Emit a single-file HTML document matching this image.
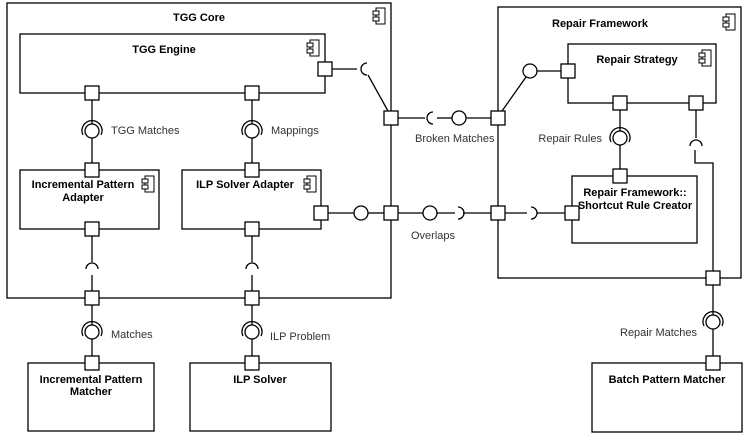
<!DOCTYPE html>
<html><head><meta charset="utf-8"><style>
html,body{margin:0;padding:0;background:#fff;}
svg{display:block;font-family:"Liberation Sans",Arial,sans-serif;}
.b{font-weight:bold;font-size:11px;fill:#000;}
.l{font-size:11px;fill:#333;}
</style></head><body>
<svg width="747" height="439" viewBox="0 0 747 439" xmlns="http://www.w3.org/2000/svg">
<defs>
<g id="ic"><rect x="0" y="0" width="9" height="16" fill="#fff" stroke="#000" stroke-width="1"/><rect x="-3" y="3" width="6" height="4" fill="#fff" stroke="#000" stroke-width="1"/><rect x="-3" y="9" width="6" height="4" fill="#fff" stroke="#000" stroke-width="1"/></g>
</defs>
<g fill="none" stroke="#000" stroke-width="1.3">
<rect x="7" y="3" width="384" height="295"/>
<rect x="498" y="7" width="243" height="271"/>
<rect x="20" y="34" width="305" height="59"/>
<rect x="20" y="170" width="139" height="59"/>
<rect x="182" y="170" width="139" height="59"/>
<rect x="568" y="44" width="148" height="59"/>
<rect x="572" y="176" width="125" height="67"/>
<rect x="28" y="363" width="126" height="68"/>
<rect x="190" y="363" width="141" height="68"/>
<rect x="592" y="363" width="150" height="69"/>
<line x1="92" y1="100" x2="92" y2="124"/><line x1="92" y1="138" x2="92" y2="163"/>
<line x1="252" y1="100" x2="252" y2="124"/><line x1="252" y1="138" x2="252" y2="163"/>
<line x1="92" y1="236" x2="92" y2="262"/><line x1="92" y1="275" x2="92" y2="291"/>
<line x1="252" y1="236" x2="252" y2="262"/><line x1="252" y1="275" x2="252" y2="291"/>
<line x1="92" y1="305" x2="92" y2="325"/><line x1="92" y1="339" x2="92" y2="356"/>
<line x1="252" y1="305" x2="252" y2="325"/><line x1="252" y1="339" x2="252" y2="356"/>
<line x1="332" y1="69" x2="357" y2="69"/><line x1="368" y1="75" x2="388" y2="111"/>
<line x1="398" y1="118" x2="425" y2="118"/><line x1="437" y1="118" x2="452" y2="118"/><line x1="466" y1="118" x2="491" y2="118"/>
<line x1="502" y1="111" x2="526" y2="77"/><line x1="537" y1="71" x2="561" y2="71"/>
<line x1="328" y1="213" x2="354" y2="213"/><line x1="368" y1="213" x2="384" y2="213"/>
<line x1="398" y1="213" x2="423" y2="213"/><line x1="437" y1="213" x2="455" y2="213"/><line x1="463" y1="213" x2="491" y2="213"/>
<line x1="505" y1="213" x2="527" y2="213"/><line x1="537" y1="213" x2="565" y2="213"/>
<line x1="620" y1="110" x2="620" y2="131"/><line x1="620" y1="145" x2="620" y2="169"/>
<line x1="696" y1="110" x2="696" y2="138"/>
<polyline points="695,150 695,163 713,163 713,271"/>
<line x1="713" y1="285" x2="713" y2="315"/><line x1="713" y1="329" x2="713" y2="356"/>
<circle cx="92" cy="131" r="7"/><path d="M83,135 A10,10 0 1 1 101,135"/>
<circle cx="252" cy="131" r="7"/><path d="M243,135 A10,10 0 1 1 261,135"/>
<circle cx="92" cy="332" r="7"/><path d="M83,336 A10,10 0 1 1 101,336"/>
<circle cx="252" cy="332" r="7"/><path d="M243,336 A10,10 0 1 1 261,336"/>
<circle cx="620" cy="138" r="7"/><path d="M611,142 A10,10 0 1 1 629,142"/>
<circle cx="713" cy="322" r="7"/><path d="M704,326 A10,10 0 1 1 722,326"/>
<circle cx="459" cy="118" r="7"/><circle cx="530" cy="71" r="7"/>
<circle cx="361" cy="213" r="7"/><circle cx="430" cy="213" r="7"/>
<path d="M86,269 A6,6 0 0 1 98,269"/><path d="M246,269 A6,6 0 0 1 258,269"/>
<path d="M690,146 A6,6 0 0 1 702,146"/>
<path d="M367,63 A6,6 0 0 0 367,75"/>
<path d="M433,112 A6,6 0 0 0 433,124"/>
<path d="M458,207 A6,6 0 0 1 458,219"/>
<path d="M531,207 A6,6 0 0 1 531,219"/>
</g>
<g fill="#fff" stroke="#000" stroke-width="1.3">
<rect x="85" y="86" width="14" height="14"/><rect x="245" y="86" width="14" height="14"/>
<rect x="318" y="62" width="14" height="14"/>
<rect x="85" y="163" width="14" height="14"/><rect x="245" y="163" width="14" height="14"/>
<rect x="85" y="222" width="14" height="14"/><rect x="245" y="222" width="14" height="14"/>
<rect x="314" y="206" width="14" height="14"/>
<rect x="384" y="111" width="14" height="14"/><rect x="384" y="206" width="14" height="14"/>
<rect x="85" y="291" width="14" height="14"/><rect x="245" y="291" width="14" height="14"/>
<rect x="85" y="356" width="14" height="14"/><rect x="245" y="356" width="14" height="14"/>
<rect x="491" y="111" width="14" height="14"/><rect x="491" y="206" width="14" height="14"/>
<rect x="561" y="64" width="14" height="14"/>
<rect x="613" y="96" width="14" height="14"/><rect x="689" y="96" width="14" height="14"/>
<rect x="613" y="169" width="14" height="14"/><rect x="565" y="206" width="14" height="14"/>
<rect x="706" y="271" width="14" height="14"/><rect x="706" y="356" width="14" height="14"/>
</g>
<use href="#ic" x="376" y="8"/><use href="#ic" x="310" y="40"/>
<use href="#ic" x="145" y="176"/><use href="#ic" x="307" y="176"/>
<use href="#ic" x="726" y="14"/><use href="#ic" x="702" y="50"/>
<g class="b" text-anchor="middle">
<text x="199" y="21">TGG Core</text>
<text x="164" y="53">TGG Engine</text>
<text x="83" y="188">Incremental Pattern</text><text x="83" y="201">Adapter</text>
<text x="245" y="188">ILP Solver Adapter</text>
<text x="600" y="27">Repair Framework</text>
<text x="637" y="63">Repair Strategy</text>
<text x="635" y="196">Repair Framework::</text><text x="635" y="209">Shortcut Rule Creator</text>
<text x="91" y="383">Incremental Pattern</text><text x="91" y="395">Matcher</text>
<text x="260" y="383">ILP Solver</text>
<text x="667" y="383">Batch Pattern Matcher</text>
</g>
<g class="l">
<text x="111" y="134">TGG Matches</text>
<text x="271" y="134">Mappings</text>
<text x="111" y="338">Matches</text>
<text x="270" y="340">ILP Problem</text>
<text x="415" y="142">Broken Matches</text>
<text x="602" y="142" text-anchor="end">Repair Rules</text>
<text x="411" y="239">Overlaps</text>
<text x="620" y="336">Repair Matches</text>
</g>
</svg>
</body></html>
